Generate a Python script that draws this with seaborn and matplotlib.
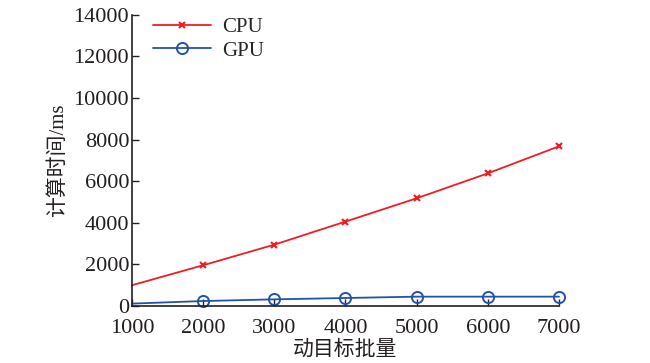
import matplotlib
matplotlib.use("Agg")
import matplotlib.pyplot as plt
import seaborn as sns
import pandas as pd

# données
batch = [1000, 2000, 3000, 4000, 5000, 6000, 7000]
cpu_ms = [1000, 1960, 2950, 4060, 5180, 6380, 7680]
gpu_ms = [115, 240, 320, 385, 450, 450, 450]
y_ticks = [0, 2000, 4000, 6000, 8000, 10000, 12000, 14000]

df = pd.DataFrame({"batch": batch, "CPU": cpu_ms, "GPU": gpu_ms})

sns.set_style("ticks")
plt.rcParams['font.family'] = ['Liberation Serif', 'Noto Sans CJK SC']
plt.rcParams['xtick.direction'] = 'in'
plt.rcParams['ytick.direction'] = 'in'

fig = plt.figure(figsize=(6.5, 3.63), dpi=100)
ax = fig.add_axes([0.203, 0.157, 0.657, 0.802])

rouge = "#f01c24"
bleu = "#2253a8"
sns.lineplot(data=df, x="batch", y="CPU", ax=ax, color=rouge, linewidth=1.3,
             marker="x", markersize=5, markeredgewidth=1.5, markeredgecolor=rouge,
             markevery=slice(1, None), label="CPU", clip_on=False)
sns.lineplot(data=df, x="batch", y="GPU", ax=ax, color=bleu, linewidth=1.3,
             marker="o", markersize=8, markerfacecolor="none", markeredgewidth=1.4,
             markeredgecolor=bleu, markevery=slice(1, None),
             label="GPU", clip_on=False)

ax.set_xlim(1000, 7000)
ax.set_ylim(0, 14000)
ax.set_xticks(batch)
ax.set_yticks(y_ticks)
ax.tick_params(labelsize=16, length=5, width=1, colors="#231f20", pad=2)
ax.tick_params(axis="x", pad=9)
ax.set_xlabel("动目标批量", fontsize=15, labelpad=2, color="#231f20")
ax.set_ylabel("计算时间/ms", fontsize=15, labelpad=4, color="#231f20")
sns.despine(ax=ax)
for s in ["left", "bottom"]:
    ax.spines[s].set_linewidth(1.2)
    ax.spines[s].set_color("#231f20")

ax.legend(loc="upper left", frameon=False, fontsize=15, handlelength=2.8,
          borderaxespad=0.0, bbox_to_anchor=(0.03, 1.02), labelspacing=0.2,
          handletextpad=0.5)

plt.savefig("out.png", dpi=100)
